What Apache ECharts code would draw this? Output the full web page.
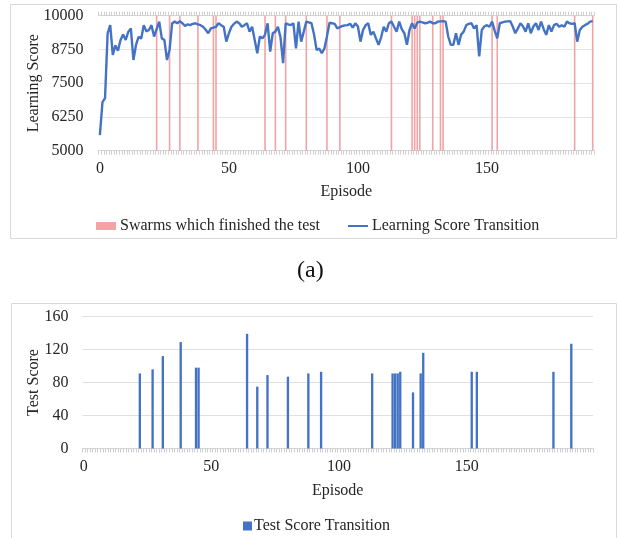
<!DOCTYPE html>
<html><head><meta charset="utf-8">
<script src="https://cdn.jsdelivr.net/npm/echarts@6/dist/echarts.min.js"></script>
<style>html,body{margin:0;padding:0;background:#fff}#c{width:618px;height:538px}</style>
</head><body><div id="c"></div>
<script>
// Learning score per episode (episodes 0..191)
const learningScore = [
  5580, 6800, 6950, 9350, 9650, 8550, 8900, 8700, 9100, 9300,
  9100, 9400, 9530, 8360, 8920, 9220, 9150, 9650, 9420, 9470,
  9650, 9230, 9500, 9780, 9160, 9100, 8360, 8730, 9720, 9780,
  9720, 9800, 9720, 9620, 9680, 9650, 9700, 9720, 9680, 9650,
  9590, 9480, 9350, 9530, 9560, 9590, 9720, 9650, 9590, 9040,
  9350, 9590, 9700, 9780, 9720, 9590, 9650, 9720, 9410, 9590,
  9100, 8610, 9230, 9160, 9300, 9720, 8670, 9350, 9410, 9590,
  9200, 8240, 9720, 9680, 9650, 9720, 8790, 9780, 9040, 9400,
  9780, 9750, 9720, 9300, 8730, 8780, 8610, 8780, 9230, 9740,
  9720, 9700, 9530, 9580, 9620, 9640, 9650, 9700, 9560, 9720,
  9600, 9040, 9470, 9650, 9720, 9290, 9410, 9160, 8920, 9200,
  9590, 9410, 9720, 9780, 9590, 9410, 9780, 9500, 9350, 8920,
  9470, 9720, 9530, 9740, 9780, 9750, 9720, 9740, 9780, 9720,
  9720, 9780, 9790, 9800, 9780, 9230, 8920, 8920, 9350, 8920,
  9300, 9410, 9650, 9700, 9720, 9530, 9650, 8490, 9470, 9600,
  9650, 9590, 9780, 9450, 9160, 9720, 9750, 9780, 9790, 9800,
  9600, 9350, 9530, 9720, 9600, 9410, 9720, 9350, 9600, 9720,
  9470, 9780, 9500, 9290, 9650, 9410, 9650, 9700, 9590, 9650,
  9590, 9780, 9720, 9700, 9720, 9040, 9470, 9590, 9650, 9700,
  9780, 9800
];
// Episodes in which a swarm finished the test, and their test scores
const testEpisodes = [22, 27, 31, 38, 44, 45, 64, 68, 72, 80, 88, 93, 113, 121, 122, 123, 124, 129, 132, 133, 152, 154, 184, 191];
const testScores   = [91, 96, 112, 129, 98, 98, 139, 75, 89, 87, 91, 93, 91, 91, 91, 91, 93, 68, 91, 116, 93, 93, 93, 127];
const finishedMarkValue = 10000;
const bottomEpisodeCount = 200;
const topYTicks = [5000, 6250, 7500, 8750, 10000];
const bottomYTicks = [0, 40, 80, 120, 160];

const topCategories = learningScore.map((_, i) => String(i));
const bottomCategories = Array.from({length: bottomEpisodeCount}, (_, i) => String(i));
const finishedData = topCategories.map(c => testEpisodes.includes(+c) ? finishedMarkValue : null);
const testData = bottomCategories.map(c => { const k = testEpisodes.indexOf(+c); return k >= 0 ? testScores[k] : null; });

const FONT = '"Liberation Serif", "Times New Roman", serif';
const TXT = '#262626';
const chart = echarts.init(document.getElementById('c'), null, {renderer: 'canvas'});

const catAxisCommon = {
  type: 'category',
  boundaryGap: true,
  axisLine: {show: true, lineStyle: {color: '#d4d4d4', width: 1}},
  axisTick: {show: true, interval: 0, length: 4, lineStyle: {color: '#cfcfcf'}},
  splitLine: {show: false}
};
const plainNum = v => String(v);
const LINE_ICON = 'path://M0,0L0,0ZM0,3.1H20V4.9H0ZM20,8L20,8Z';

chart.setOption({
  backgroundColor: '#fff',
  animation: false,
  textStyle: {fontFamily: FONT},
  grid: [
    {left: 98.6, width: 495.4, top: 15.7, height: 135},
    {left: 82.4, width: 510.6, top: 316.5, height: 132}
  ],
  xAxis: [
    Object.assign({}, catAxisCommon, {
      gridIndex: 0, data: topCategories, position: 'bottom',
      name: 'Episode', nameLocation: 'middle', nameGap: 33,
      nameTextStyle: {fontFamily: FONT, fontSize: 16, color: TXT},
      axisLabel: {interval: 49, margin: 10, fontFamily: FONT, fontSize: 16, color: TXT}
    }),
    Object.assign({}, catAxisCommon, {
      gridIndex: 0, data: topCategories, position: 'top',
      axisLabel: {show: false}
    }),
    Object.assign({}, catAxisCommon, {
      gridIndex: 1, data: bottomCategories, position: 'bottom',
      name: 'Episode', nameLocation: 'middle', nameGap: 34,
      nameTextStyle: {fontFamily: FONT, fontSize: 16, color: TXT},
      axisLabel: {interval: 49, margin: 10, fontFamily: FONT, fontSize: 16, color: TXT}
    })
  ],
  yAxis: [
    {
      gridIndex: 0, type: 'value', min: topYTicks[0], max: topYTicks[topYTicks.length - 1], interval: topYTicks[1] - topYTicks[0],
      name: 'Learning Score', nameLocation: 'middle', nameRotate: 90, nameGap: 57, nameMoveOverlap: false,
      nameTextStyle: {fontFamily: FONT, fontSize: 16, color: TXT},
      axisLine: {show: false}, axisTick: {show: false},
      axisLabel: {margin: 15, fontFamily: FONT, fontSize: 16, color: TXT, formatter: plainNum},
      splitLine: {show: true, lineStyle: {color: '#e4e4e4', width: 1}}
    },
    {
      gridIndex: 1, type: 'value', min: bottomYTicks[0], max: bottomYTicks[bottomYTicks.length - 1], interval: bottomYTicks[1] - bottomYTicks[0],
      name: 'Test Score', nameLocation: 'middle', nameRotate: 90, nameGap: 41, nameMoveOverlap: false,
      nameTextStyle: {fontFamily: FONT, fontSize: 16, color: TXT},
      axisLine: {show: false}, axisTick: {show: false},
      axisLabel: {margin: 14, fontFamily: FONT, fontSize: 16, color: TXT, formatter: plainNum},
      splitLine: {show: true, lineStyle: {color: '#e0e0e0', width: 1}}
    }
  ],
  legend: [
    {
      left: 91, top: 213, itemGap: 28, itemWidth: 20, itemHeight: 8,
      textStyle: {fontFamily: FONT, fontSize: 16, color: TXT, padding: [0, 0, 0, -1]},
      data: [
        {name: 'Swarms which finished the test', icon: 'rect'},
        {name: 'Learning Score Transition', icon: LINE_ICON}
      ]
    },
    {
      left: 238, top: 513, itemWidth: 9, itemHeight: 9,
      textStyle: {fontFamily: FONT, fontSize: 16, color: TXT, padding: [0, 0, 0, -3]},
      data: [{name: 'Test Score Transition', icon: 'rect'}]
    }
  ],
  series: [
    {
      name: 'Swarms which finished the test', type: 'bar',
      xAxisIndex: 0, yAxisIndex: 0, data: finishedData,
      barWidth: 1.6, itemStyle: {color: '#F2A3A3'}, z: 1, clip: true
    },
    {
      name: 'Learning Score Transition', type: 'line',
      xAxisIndex: 0, yAxisIndex: 0, data: learningScore,
      symbol: 'none', showSymbol: false,
      lineStyle: {color: '#4472C4', width: 2.4}, itemStyle: {color: '#4472C4'}, z: 3
    },
    {
      name: 'Test Score Transition', type: 'bar',
      xAxisIndex: 2, yAxisIndex: 1, data: testData,
      barCategoryGap: '8%', itemStyle: {color: '#4472C4'}
    }
  ],
  graphic: [
    {type: 'rect', shape: {x: 10.5, y: 4.5, width: 606, height: 234}, style: {fill: null, stroke: '#d9d9d9', lineWidth: 1}, silent: true, z: -10},
    {type: 'rect', shape: {x: 11.5, y: 303.5, width: 605, height: 240}, style: {fill: null, stroke: '#d9d9d9', lineWidth: 1}, silent: true, z: -10},
    {type: 'text', left: 297, top: 259, style: {text: '(a)', fontFamily: FONT, fontSize: 24, fill: '#111'}}
  ]
});
</script>
</body></html>
